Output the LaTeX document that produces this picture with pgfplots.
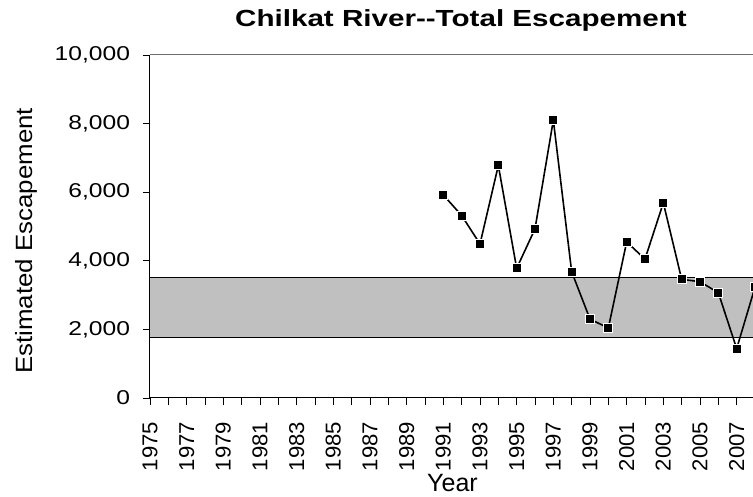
\documentclass[border=0pt]{standalone}
\usepackage{pgfplots}
\pgfplotsset{compat=1.18}
\usepackage{fontspec}
\setmainfont{Liberation Sans}
\newfontfamily\tickfont[FakeStretch=1.23]{Liberation Sans}
\newfontfamily\rotfont[FakeStretch=1.03]{Liberation Sans}
\newfontfamily\ylabfont[FakeStretch=1.10]{Liberation Sans}
\newfontfamily\titlefont[FakeStretch=1.27]{Liberation Sans}
\definecolor{band}{RGB}{192,192,192}
\definecolor{framegray}{RGB}{110,110,110}

\begin{document}
\begin{tikzpicture}
\begin{axis}[
    name=ax,
    at={(0,0)}, anchor=south west,
    scale only axis, width=605pt, height=343pt,
    xmin=1975, xmax=2008,
    ymin=0, ymax=10000,
    clip=false,
    axis x line*=bottom, axis y line*=left,
    axis line style={black, line width=1pt},
    tick align=outside,
    major tick length=7.5pt, minor tick length=7.5pt,
    tick style={black, line width=0.8pt},
    xtick={1975,1977,...,2007},
    minor xtick={1976,1978,...,2008},
    ytick={0,2000,...,10000},
    scaled y ticks=false,
    /pgf/number format/assume math mode=true,
    x tick label style={/pgf/number format/1000 sep={}},
    y tick label style={/pgf/number format/1000 sep={,}},
    xticklabel style={rotate=90, anchor=east, font=\rotfont\fontsize{21.5}{22}\selectfont},
    xticklabel shift=13pt,
    yticklabel style={anchor=east, font=\tickfont\fontsize{20}{22}\selectfont},
    yticklabel shift=9pt,
    every axis x label/.style={at={(axis description cs:0.5,-0.272)}, anchor=base,
        font=\fontsize{25}{26}\selectfont},
    every axis y label/.style={at={(axis description cs:-0.195,0.458)}, rotate=90, anchor=base,
        font=\ylabfont\fontsize{23.5}{25}\selectfont},
    xlabel={Year},
    ylabel={Estimated Escapement},
]
\addplot[draw=black, line width=1pt, fill=band] coordinates {
    (1975,1750) (2008,1750) (2008,3500) (1975,3500)
} -- cycle;
\addplot[black, line width=1.6pt, mark=square*, mark size=4.5pt,
    mark options={fill=black, draw=white, line width=1pt}] coordinates {
    (1991,5920) (1992,5320) (1993,4490) (1994,6780) (1995,3780)
    (1996,4930) (1997,8100) (1998,3680) (1999,2300) (2000,2040)
    (2001,4550) (2002,4050) (2003,5690) (2004,3460) (2005,3390)
    (2006,3070) (2007,1440) (2008,3230)
};
\end{axis}
\draw[framegray, line width=1pt] (ax.north west) -- (ax.north east);
\node[anchor=base, font=\titlefont\bfseries\fontsize{23.3}{25}\selectfont]
    at (311pt,371pt) {Chilkat River-{}-Total Escapement};
\pgfresetboundingbox
\path (-150pt,-99pt) rectangle (603pt,398pt);
\end{tikzpicture}
\end{document}
